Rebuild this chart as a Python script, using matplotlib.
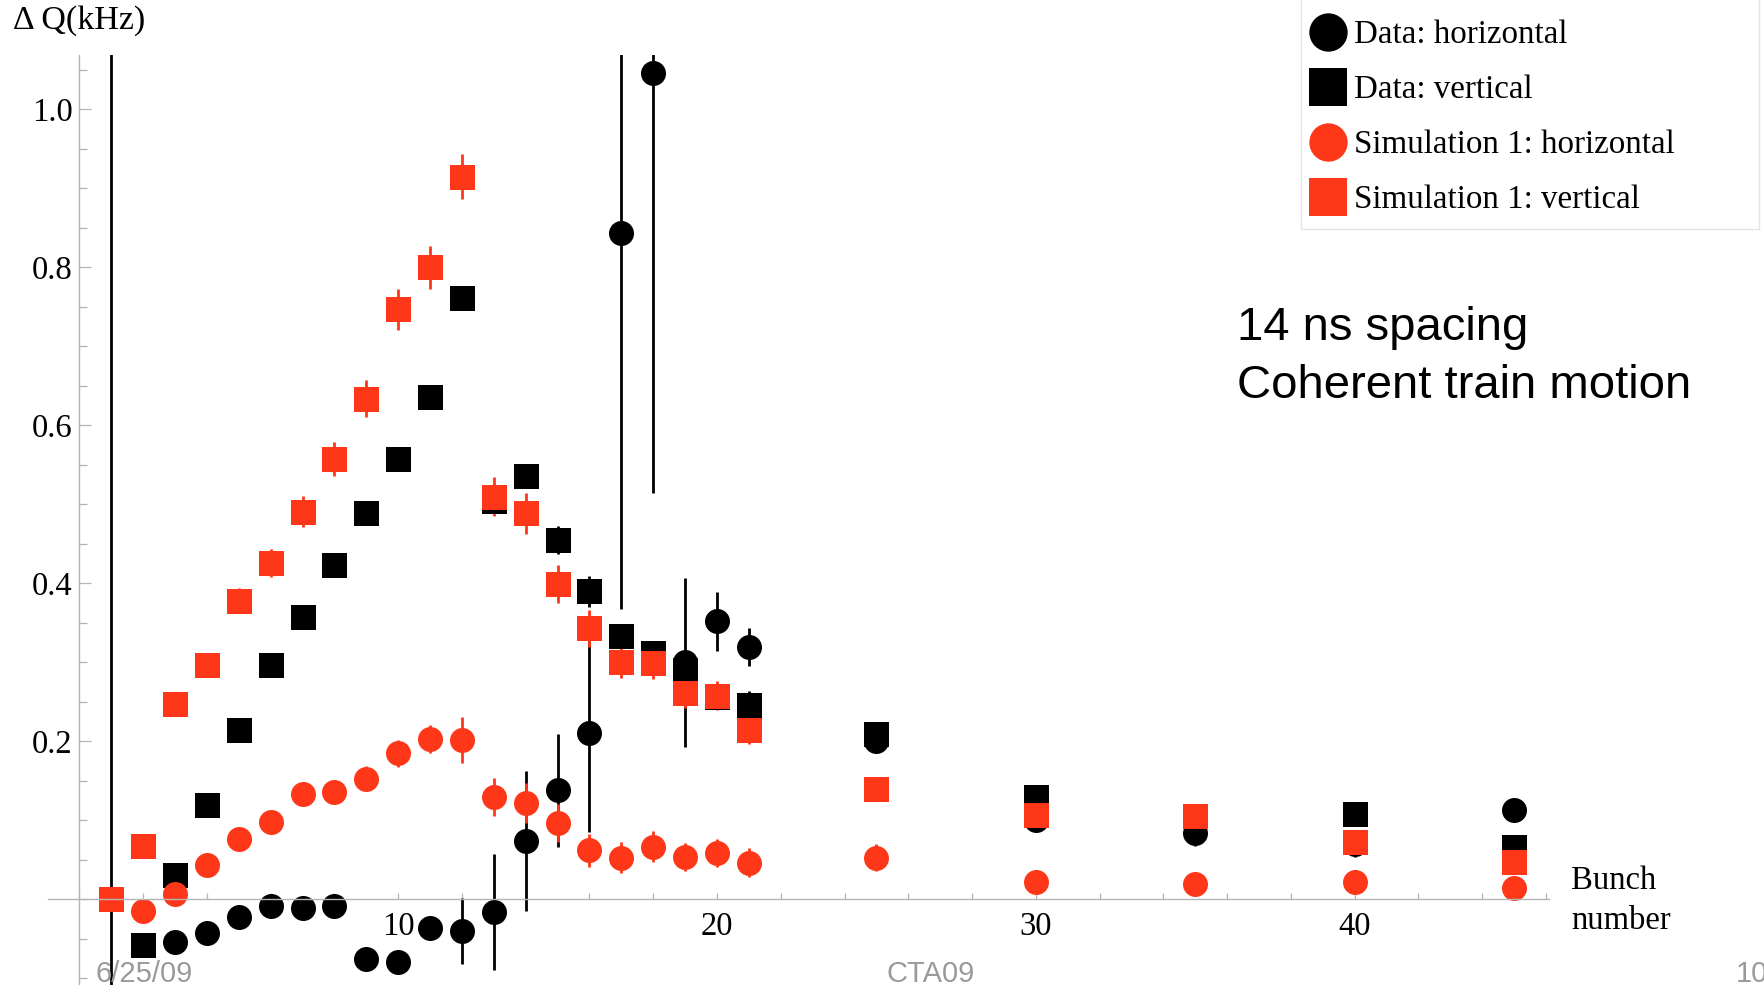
import matplotlib
matplotlib.use("Agg")
import matplotlib.pyplot as plt
from matplotlib.lines import Line2D
from matplotlib.patches import Rectangle
from matplotlib.ticker import MultipleLocator, FixedLocator

RED = "#ff3719"
SERIF = "Liberation Serif"
SANS = "Liberation Sans"

# measured tune shift per bunch
bunch_data_h = [1, 3, 4, 5, 6, 7, 8, 9, 10, 11, 12, 13, 14, 15, 16, 17, 18, 19, 20, 21,
                25, 30, 35, 40, 45]
data_h = [-0.30, -0.054, -0.042, -0.022, -0.008, -0.011, -0.008, -0.076, -0.079, -0.036,
          -0.040, -0.016, 0.074, 0.138, 0.211, 0.843, 1.046, 0.300, 0.352, 0.320,
          0.200, 0.100, 0.084, 0.070, 0.113]
data_h_err = [1.5, 0.008, 0.008, 0.008, 0.008, 0.008, 0.008, 0.008, 0.008, 0.008,
              0.042, 0.073, 0.088, 0.072, 0.125, 0.475, 0.531, 0.107, 0.037, 0.024,
              0.012, 0.012, 0.016, 0.016, 0.008]

bunch_data_v = [2, 3, 4, 5, 6, 7, 8, 9, 10, 11, 12, 13, 14, 15, 16, 17, 18, 19, 20, 21,
                25, 30, 35, 40, 45]
data_v = [-0.058, 0.031, 0.119, 0.2146, 0.297, 0.358, 0.4234, 0.489, 0.558, 0.6365,
          0.761, 0.505, 0.536, 0.455, 0.390, 0.333, 0.312, 0.290, 0.2565, 0.246,
          0.209, 0.130, 0.105, 0.108, 0.067]
data_v_err = [0.005, 0.005, 0.005, 0.005, 0.005, 0.005, 0.005, 0.005, 0.005, 0.005,
              0.005, 0.005, 0.005, 0.018, 0.020, 0.005, 0.005, 0.005, 0.005, 0.018,
              0.010, 0.005, 0.005, 0.005, 0.005]

# simulation 1
bunch_sim = [1, 2, 3, 4, 5, 6, 7, 8, 9, 10, 11, 12, 13, 14, 15, 16, 17, 18, 19, 20, 21,
             25, 30, 35, 40, 45]
sim_h = [0.0, -0.015, 0.007, 0.044, 0.076, 0.0985, 0.134, 0.1365, 0.153, 0.185, 0.203,
         0.202, 0.130, 0.122, 0.097, 0.062, 0.053, 0.067, 0.054, 0.059, 0.0466,
         0.053, 0.0217, 0.019, 0.0225, 0.014]
sim_h_err = [0.003, 0.004, 0.004, 0.005, 0.006, 0.007, 0.010, 0.012, 0.016, 0.017, 0.018,
             0.029, 0.024, 0.025, 0.024, 0.021, 0.020, 0.020, 0.018, 0.018, 0.018,
             0.017, 0.010, 0.010, 0.010, 0.010]
sim_v = [0.0, 0.068, 0.247, 0.297, 0.378, 0.426, 0.491, 0.558, 0.634, 0.747, 0.800,
         0.915, 0.510, 0.489, 0.399, 0.343, 0.301, 0.299, 0.261, 0.258, 0.215,
         0.1395, 0.107, 0.105, 0.073, 0.048]
sim_v_err = [0.004, 0.004, 0.004, 0.005, 0.016, 0.018, 0.020, 0.0215, 0.0236, 0.026, 0.027,
             0.0287, 0.0245, 0.026, 0.024, 0.023, 0.021, 0.020, 0.019, 0.0185, 0.0177,
             0.008, 0.008, 0.008, 0.008, 0.008]

series = [
    (bunch_data_h, data_h, data_h_err, "o", "black", "Data: horizontal"),
    (bunch_data_v, data_v, data_v_err, "s", "black", "Data: vertical"),
    (bunch_sim, sim_h, sim_h_err, "o", RED, "Simulation 1: horizontal"),
    (bunch_sim, sim_v, sim_v_err, "s", RED, "Simulation 1: vertical"),
]

fig = plt.figure(figsize=(17.64, 9.85), dpi=100)
ax = fig.add_axes([0.02694, 0.0, 0.8512, 0.9442])

for x, y, err, marker, color, label in series:
    ax.errorbar(x, y, yerr=err, fmt=marker, color=color, ecolor=color,
                markersize=18, markeredgewidth=0, elinewidth=2.0,
                capsize=3.4, capthick=2.2)

ax.set_xlim(-1, 46.1)
ax.set_ylim(-0.1083, 1.069)

for side in ["top", "right"]:
    ax.spines[side].set_visible(False)
ax.spines["left"].set_position(("data", 0))
ax.spines["bottom"].set_position(("data", 0))
for side in ["left", "bottom"]:
    ax.spines[side].set_color("#b4b4b4")
    ax.spines[side].set_linewidth(1.0)

ax.xaxis.set_major_locator(FixedLocator([10, 20, 30, 40]))
ax.xaxis.set_minor_locator(MultipleLocator(2))
ax.yaxis.set_major_locator(FixedLocator([0.2, 0.4, 0.6, 0.8, 1.0]))
ax.yaxis.set_minor_locator(MultipleLocator(0.05))
ax.yaxis.set_major_formatter(plt.FuncFormatter(lambda v, p: f"{v:.1f}"))

ax.tick_params(axis="x", which="both", direction="in", length=4.5, width=0.9,
               color="#b4b4b4", pad=9, labelsize=23.5)
ax.tick_params(axis="y", which="major", direction="in", length=8.5, width=0.9,
               color="#b4b4b4", pad=5, labelsize=23.5)
ax.tick_params(axis="y", which="minor", direction="in", length=5.5, width=0.9,
               color="#b4b4b4")
for lab in ax.get_xticklabels() + ax.get_yticklabels():
    lab.set_fontfamily(SERIF)

fig.text(0.0076, 0.9712, "Δ Q(kHz)", fontsize=24.5, family=SERIF, va="baseline")
fig.text(0.8905, 0.0972, "Bunch", fontsize=23.5, family=SERIF, va="baseline")
fig.text(0.8905, 0.0569, "number", fontsize=23.5, family=SERIF, va="baseline")

fig.text(0.7015, 0.6548, "14 ns spacing", fontsize=34, family=SANS, va="baseline")
fig.text(0.7015, 0.5956, "Coherent train motion", fontsize=34, family=SANS, va="baseline")

# slide footer
fig.text(0.0539, 0.0034, "6/25/09", fontsize=21, family=SANS, color="#9a9a9a", va="baseline")
fig.text(0.5275, 0.0034, "CTA09", fontsize=21, family=SANS, color="#9a9a9a",
         va="baseline", ha="center")
fig.text(0.9841, 0.0034, "10", fontsize=21, family=SANS, color="#9a9a9a", va="baseline")

# legend box
fig.add_artist(Rectangle((0.7374, 0.7678), 0.2598, 0.25, transform=fig.transFigure,
                         facecolor="white", edgecolor="#e4e4e4", linewidth=1.0))
handles = [Line2D([], [], linestyle="none", marker=m, color=c, markersize=27.6,
                  markeredgewidth=0) for _, _, _, m, c, _ in series]
labels = [s[5] for s in series]
fig.legend(handles, labels, loc="upper left", bbox_to_anchor=(0.7454, 0.9800),
           frameon=False, prop={"family": SERIF, "size": 23.8}, handlelength=0.8,
           handletextpad=0.38, labelspacing=0.74, borderpad=0, borderaxespad=0)

fig.savefig("out.png", dpi=100)
